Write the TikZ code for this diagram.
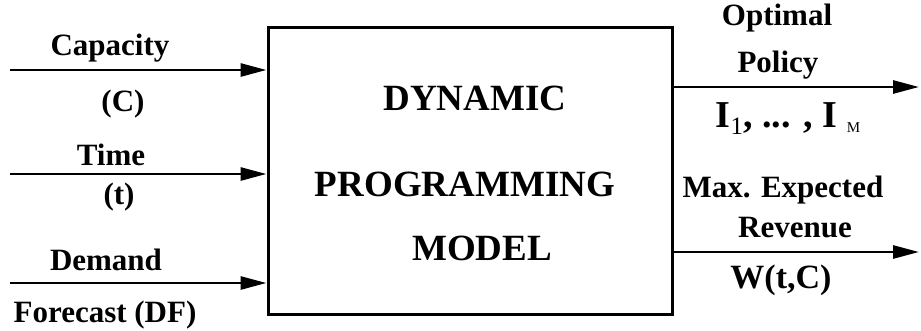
\documentclass[tikz,border=0pt]{standalone}
\usepackage{fontspec}
\setmainfont{Liberation Serif}
\usetikzlibrary{arrows.meta}

\begin{document}
\begin{tikzpicture}[x=1pt,y=-1pt]
\tikzstyle{lbl}=[font=\fontsize{31}{31}\selectfont\bfseries,inner sep=0pt,anchor=base]
\tikzstyle{boxtxt}=[font=\fontsize{37}{37}\selectfont\bfseries,inner sep=0pt,anchor=base]
\tikzstyle{flow}=[line width=2.8pt,-{Triangle[length=26pt,width=13pt]}]
\useasboundingbox (0,0) rectangle (921,330);
\node[draw,line width=3pt,minimum width=404pt,minimum height=287pt,inner sep=0pt] (model) at (470,170.5) {};
\node[boxtxt] (dyn) at (475,110) {DYNAMIC};
\node[boxtxt] (prog) at (465,196) {PROGRAMMING};
\node[boxtxt] (mod) at (482,260) {MODEL};
% inputs on the left, outputs on the right
\foreach \name/\y in {cap/70, time/174, dem/283}
	\coordinate (\name) at (10,\y);
\foreach \name/\y in {pol/87, rev/252}
	\coordinate (\name) at (919,\y);
\draw[flow] (cap) -- (cap -| model.west);
\draw[flow] (time) -- (time -| model.west);
\draw[flow] (dem) -- (dem -| model.west);
\draw[flow] (pol -| model.east) -- (pol);
\draw[flow] (rev -| model.east) -- (rev);
\node[lbl] (capl) at (110,55) {Capacity};
\node[lbl] (capv) at (123,111) {(C)};
\node[lbl] (timel) at (111,165) {Time};
\node[lbl] (timev) at (119,204) {(t)};
\node[lbl] (deml) at (106,270) {Demand};
\node[lbl] (demv) at (105,322) {Forecast (DF)};
\node[lbl] (poll) at (777,25) {Optimal};
\node[lbl] (poll2) at (778,72) {Policy};
\node[lbl,font=\fontsize{38}{38}\selectfont\bfseries] (polv) at (788,127)
	{I\raisebox{-7pt}{\fontsize{25}{25}\selectfont\mdseries 1}, ... , I\hspace{10pt}\raisebox{-5pt}{\fontsize{15}{15}\selectfont\mdseries M}};
\node[lbl] (revl) at (783,197) {Max. Expected};
\node[lbl] (revl2) at (795,237) {Revenue};
\node[lbl,font=\fontsize{34}{34}\selectfont\bfseries] (revv) at (781,288) {W(t,C)};
\end{tikzpicture}
\end{document}
